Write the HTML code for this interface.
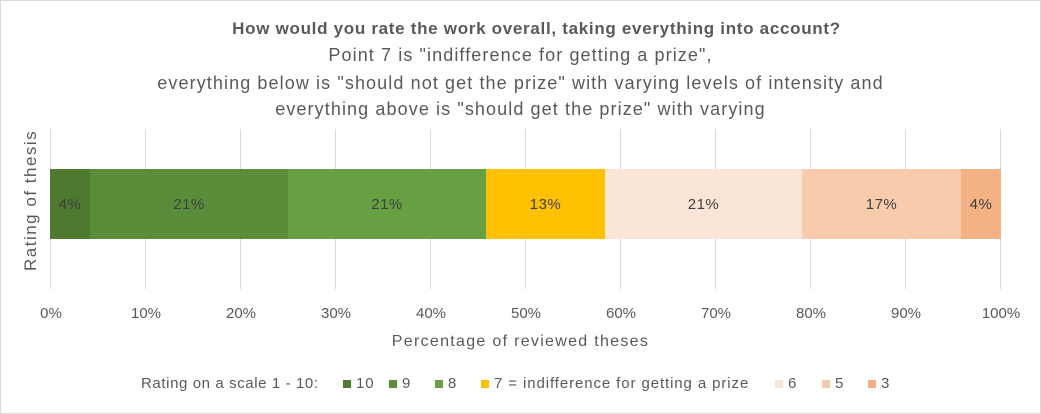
<!DOCTYPE html>
<html><head><style>
body{margin:0;background:#fff;}
#c{position:relative;width:1039px;height:412px;border:1px solid #d9d9d9;background:#fff;font-family:"Liberation Sans",Calibri,sans-serif;color:#595959;overflow:hidden;}
.t{position:absolute;left:0;width:1039px;text-align:center;font-size:18px;letter-spacing:1.1px;}
.g{position:absolute;top:128px;height:160px;width:1px;background:#d9d9d9;}
.s{position:absolute;top:168px;height:70px;display:flex;align-items:center;justify-content:center;font-size:15px;color:#404040;letter-spacing:0.5px;}
.tk{position:absolute;top:304px;width:60px;margin-left:-30px;text-align:center;font-size:15px;}
.lg{position:absolute;top:374px;font-size:15px;letter-spacing:0.9px;white-space:nowrap;}
.sq{display:inline-block;width:8px;height:8px;margin-right:5px;}
</style></head><body><div id="c">
<div class="t" style="top:18px;left:16px;font-weight:bold;font-size:17px;letter-spacing:0.7px;">How would you rate the work overall, taking everything into account?</div>
<div class="t" style="top:44px;">Point 7 is "indifference for getting a prize",</div>
<div class="t" style="top:72px;">everything below is "should not get the prize" with varying levels of intensity and</div>
<div class="t" style="top:98px;">everything above is "should get the prize" with varying</div>
<div style="position:absolute;left:20px;top:270px;transform:rotate(-90deg);transform-origin:0 0;font-size:17px;letter-spacing:1.5px;white-space:nowrap;">Rating of thesis</div>
<div class="g" style="left:49px"></div><div class="g" style="left:144px"></div><div class="g" style="left:239px"></div><div class="g" style="left:334px"></div><div class="g" style="left:429px"></div><div class="g" style="left:524px"></div><div class="g" style="left:619px"></div><div class="g" style="left:714px"></div><div class="g" style="left:809px"></div><div class="g" style="left:904px"></div><div class="g" style="left:999px"></div>
<div class="s" style="left:49px;width:40px;background:#4e7a2f">4%</div>
<div class="s" style="left:89px;width:198px;background:#5a8d3a">21%</div>
<div class="s" style="left:287px;width:198px;background:#66a042">21%</div>
<div class="s" style="left:485px;width:119px;background:#ffc000">13%</div>
<div class="s" style="left:604px;width:197px;background:#fbe5d6">21%</div>
<div class="s" style="left:801px;width:159px;background:#f8cbad">17%</div>
<div class="s" style="left:960px;width:40px;background:#f4b183">4%</div>
<div class="tk" style="left:50px">0%</div><div class="tk" style="left:145px">10%</div><div class="tk" style="left:240px">20%</div><div class="tk" style="left:335px">30%</div><div class="tk" style="left:430px">40%</div><div class="tk" style="left:525px">50%</div><div class="tk" style="left:620px">60%</div><div class="tk" style="left:715px">70%</div><div class="tk" style="left:810px">80%</div><div class="tk" style="left:905px">90%</div><div class="tk" style="left:1000px">100%</div>
<div class="t" style="top:332px;font-size:16px;letter-spacing:1.3px;">Percentage of reviewed theses</div>
<div class="lg" style="left:140px;letter-spacing:0.6px;">Rating on a scale 1 - 10:</div>
<div class="lg" style="left:342px"><span class="sq" style="background:#4e7a2f"></span>10</div>
<div class="lg" style="left:388px"><span class="sq" style="background:#5a8d3a"></span>9</div>
<div class="lg" style="left:434px"><span class="sq" style="background:#66a042"></span>8</div>
<div class="lg" style="left:480px"><span class="sq" style="background:#ffc000"></span>7 = indifference for getting a prize</div>
<div class="lg" style="left:774px"><span class="sq" style="background:#fbe5d6"></span>6</div>
<div class="lg" style="left:821px"><span class="sq" style="background:#f8cbad"></span>5</div>
<div class="lg" style="left:867px"><span class="sq" style="background:#f4b183"></span>3</div>
</div></body></html>
